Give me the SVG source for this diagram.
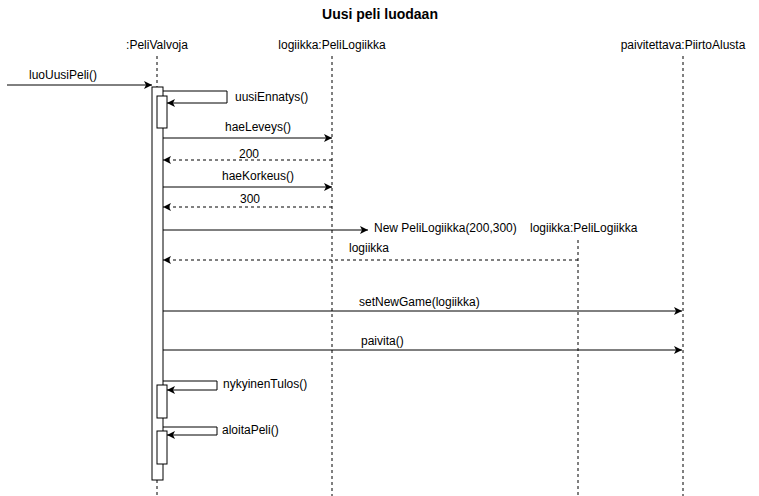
<svg xmlns="http://www.w3.org/2000/svg" width="759" height="496" viewBox="0 0 759 496">
<style>
text{font-family:"Liberation Sans",Arial,sans-serif;font-size:12px;fill:#000}
.title{font-size:14px;font-weight:bold}
.life{stroke:#000;stroke-width:1;stroke-dasharray:3,3;fill:none}
.msg{stroke:#000;stroke-width:1;fill:none}
.ret{stroke:#000;stroke-width:1;fill:none;stroke-dasharray:3,3}
.act{fill:#fff;stroke:#000;stroke-width:1}
</style>
<defs>
<marker id="ah" markerWidth="10" markerHeight="8" refX="8" refY="4" orient="auto" markerUnits="userSpaceOnUse">
<path d="M0,0 L8,4 L0,8 L2,4 Z" fill="#000"/>
</marker>
</defs>
<rect width="759" height="496" fill="#fff"/>
<text class="title" x="380" y="19" text-anchor="middle">Uusi peli luodaan</text>

<g id="peliValvoja">
<text x="157" y="49" text-anchor="middle">:PeliValvoja</text>
<line class="life" x1="157" y1="56" x2="157" y2="87"/>
<line class="life" x1="157" y1="480" x2="157" y2="496"/>
<rect class="act" x="152" y="87" width="11" height="393"/>
<rect class="act" x="157" y="96" width="10" height="32"/>
<rect class="act" x="157" y="385" width="10" height="33"/>
<rect class="act" x="157" y="431" width="10" height="33"/>
</g>
<g id="logiikka">
<text x="332" y="49" text-anchor="middle">logiikka:PeliLogiikka</text>
<line class="life" x1="332" y1="56" x2="332" y2="496"/>
</g>
<g id="logiikka2">
<text x="530" y="232">logiikka:PeliLogiikka</text>
<line class="life" x1="578" y1="240" x2="578" y2="496"/>
</g>
<g id="piirtoAlusta">
<text x="683" y="49" text-anchor="middle">paivitettava:PiirtoAlusta</text>
<line class="life" x1="683" y1="56" x2="683" y2="496"/>
</g>

<g id="connectors">
<line class="msg" x1="7" y1="85" x2="152" y2="85" marker-end="url(#ah)"/>
<text x="29" y="79">luoUusiPeli()</text>

<polyline class="msg" points="163,91 227,91 227,103 167,103" marker-end="url(#ah)"/>
<text x="235" y="101">uusiEnnatys()</text>

<line class="msg" x1="163" y1="138" x2="332" y2="138" marker-end="url(#ah)"/>
<text x="258" y="131" text-anchor="middle">haeLeveys()</text>
<line class="ret" x1="332" y1="160" x2="163" y2="160" marker-end="url(#ah)"/>
<text x="249" y="158" text-anchor="middle">200</text>

<line class="msg" x1="163" y1="187" x2="332" y2="187" marker-end="url(#ah)"/>
<text x="258" y="180" text-anchor="middle">haeKorkeus()</text>
<line class="ret" x1="332" y1="207" x2="163" y2="207" marker-end="url(#ah)"/>
<text x="250" y="203" text-anchor="middle">300</text>

<line class="msg" x1="163" y1="230" x2="368" y2="230" marker-end="url(#ah)"/>
<text x="374" y="232">New PeliLogiikka(200,300)</text>

<line class="ret" x1="578" y1="260" x2="163" y2="260" marker-end="url(#ah)"/>
<text x="349" y="252">logiikka</text>

<line class="msg" x1="163" y1="311" x2="682" y2="311" marker-end="url(#ah)"/>
<text x="359" y="306">setNewGame(logiikka)</text>

<line class="msg" x1="163" y1="350" x2="682" y2="350" marker-end="url(#ah)"/>
<text x="361" y="345">paivita()</text>

<polyline class="msg" points="163,381 217,381 217,390 167,390" marker-end="url(#ah)"/>
<text x="223" y="388">nykyinenTulos()</text>

<polyline class="msg" points="163,427 217,427 217,435 167,435" marker-end="url(#ah)"/>
<text x="222" y="434">aloitaPeli()</text>
</g>
</svg>
